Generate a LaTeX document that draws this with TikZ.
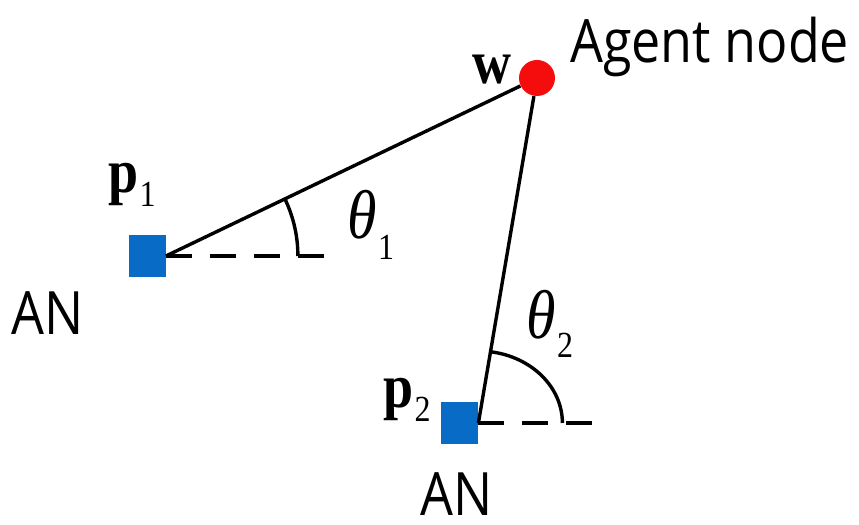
\documentclass[tikz,border=0pt]{standalone}
\usepackage{fontspec}
\usepackage{graphicx}
\setsansfont{Open Sans}
\newfontfamily\timesfont{Liberation Serif}
\usetikzlibrary{positioning}
\definecolor{anblue}{RGB}{8,108,198}
\definecolor{agentred}{RGB}{245,12,12}
\newcommand{\tall}[1]{\scalebox{1}[1.15]{#1}}
\newcommand{\symsub}[3]{\tall{#1\kern0.5pt\raisebox{#3}{\fontsize{16}{16}\selectfont #2}}}

\begin{document}
\begin{tikzpicture}[x=0.5pt,y=0.5pt,
  anchorsq/.style={rectangle,fill=anblue,minimum width=18.5pt,minimum height=21pt,inner sep=0pt},
  agentdot/.style={circle,fill=agentred,minimum size=18pt,inner sep=0pt},
  link/.style={line width=1.7pt,black},
  refline/.style={line width=1.7pt,dash pattern=on 13pt off 9pt},
  anglearc/.style={line width=1.7pt},
  sanslabel/.style={font=\sffamily\fontsize{26}{28}\selectfont,inner sep=0pt},
  boldlabel/.style={font=\timesfont\bfseries\fontsize{27}{29}\selectfont,inner sep=0pt},
  anglelabel/.style={font=\timesfont\itshape\fontsize{30}{32}\selectfont,inner sep=0pt}
]
  \useasboundingbox (0,0) rectangle (859,525);

  \node[agentdot] (w) at (537,447) {};
  \node[boldlabel] (wlab) at (492,455) {\tall{w}};
  \node[sanslabel,anchor=base west] (agentlab) at (570,462) {\tall{Agent node}};

  \node[anchorsq] (p1) at (147,269) {};
  \node[boldlabel] (p1lab) at (132,340) {\symsub{p}{\mdseries 1}{-6pt}};
  \node[sanslabel] (an1) at (48,212) {\tall{AN}};
  \coordinate (d1) at (330,269);
  \draw[refline] (p1.east) -- (d1);
  \draw[link] (p1.east) -- (w);
  \draw[anglearc] ([xshift=66pt]p1.east) arc[start angle=0,end angle=25.7,radius=66pt];
  \node[anglelabel] (th1) at (371,300) {\symsub{θ}{\upshape 1}{-9pt}};

  \node[anchorsq] (p2) at (459.5,102) {};
  \node[boldlabel] (p2lab) at (407,125) {\symsub{p}{\mdseries 2}{-6pt}};
  \node[sanslabel] (an2) at (457,31) {\tall{AN}};
  \coordinate (d2) at (593,102);
  \draw[refline] (p2.east) -- (d2);
  \draw[link] (p2.east) -- (w);
  \draw[anglearc] ([xshift=42pt]p2.east) arc[start angle=0,end angle=81.7,x radius=42pt,y radius=36pt];
  \node[anglelabel] (th2) at (550,201) {\symsub{θ}{\upshape 2}{-8pt}};
\end{tikzpicture}
\end{document}
